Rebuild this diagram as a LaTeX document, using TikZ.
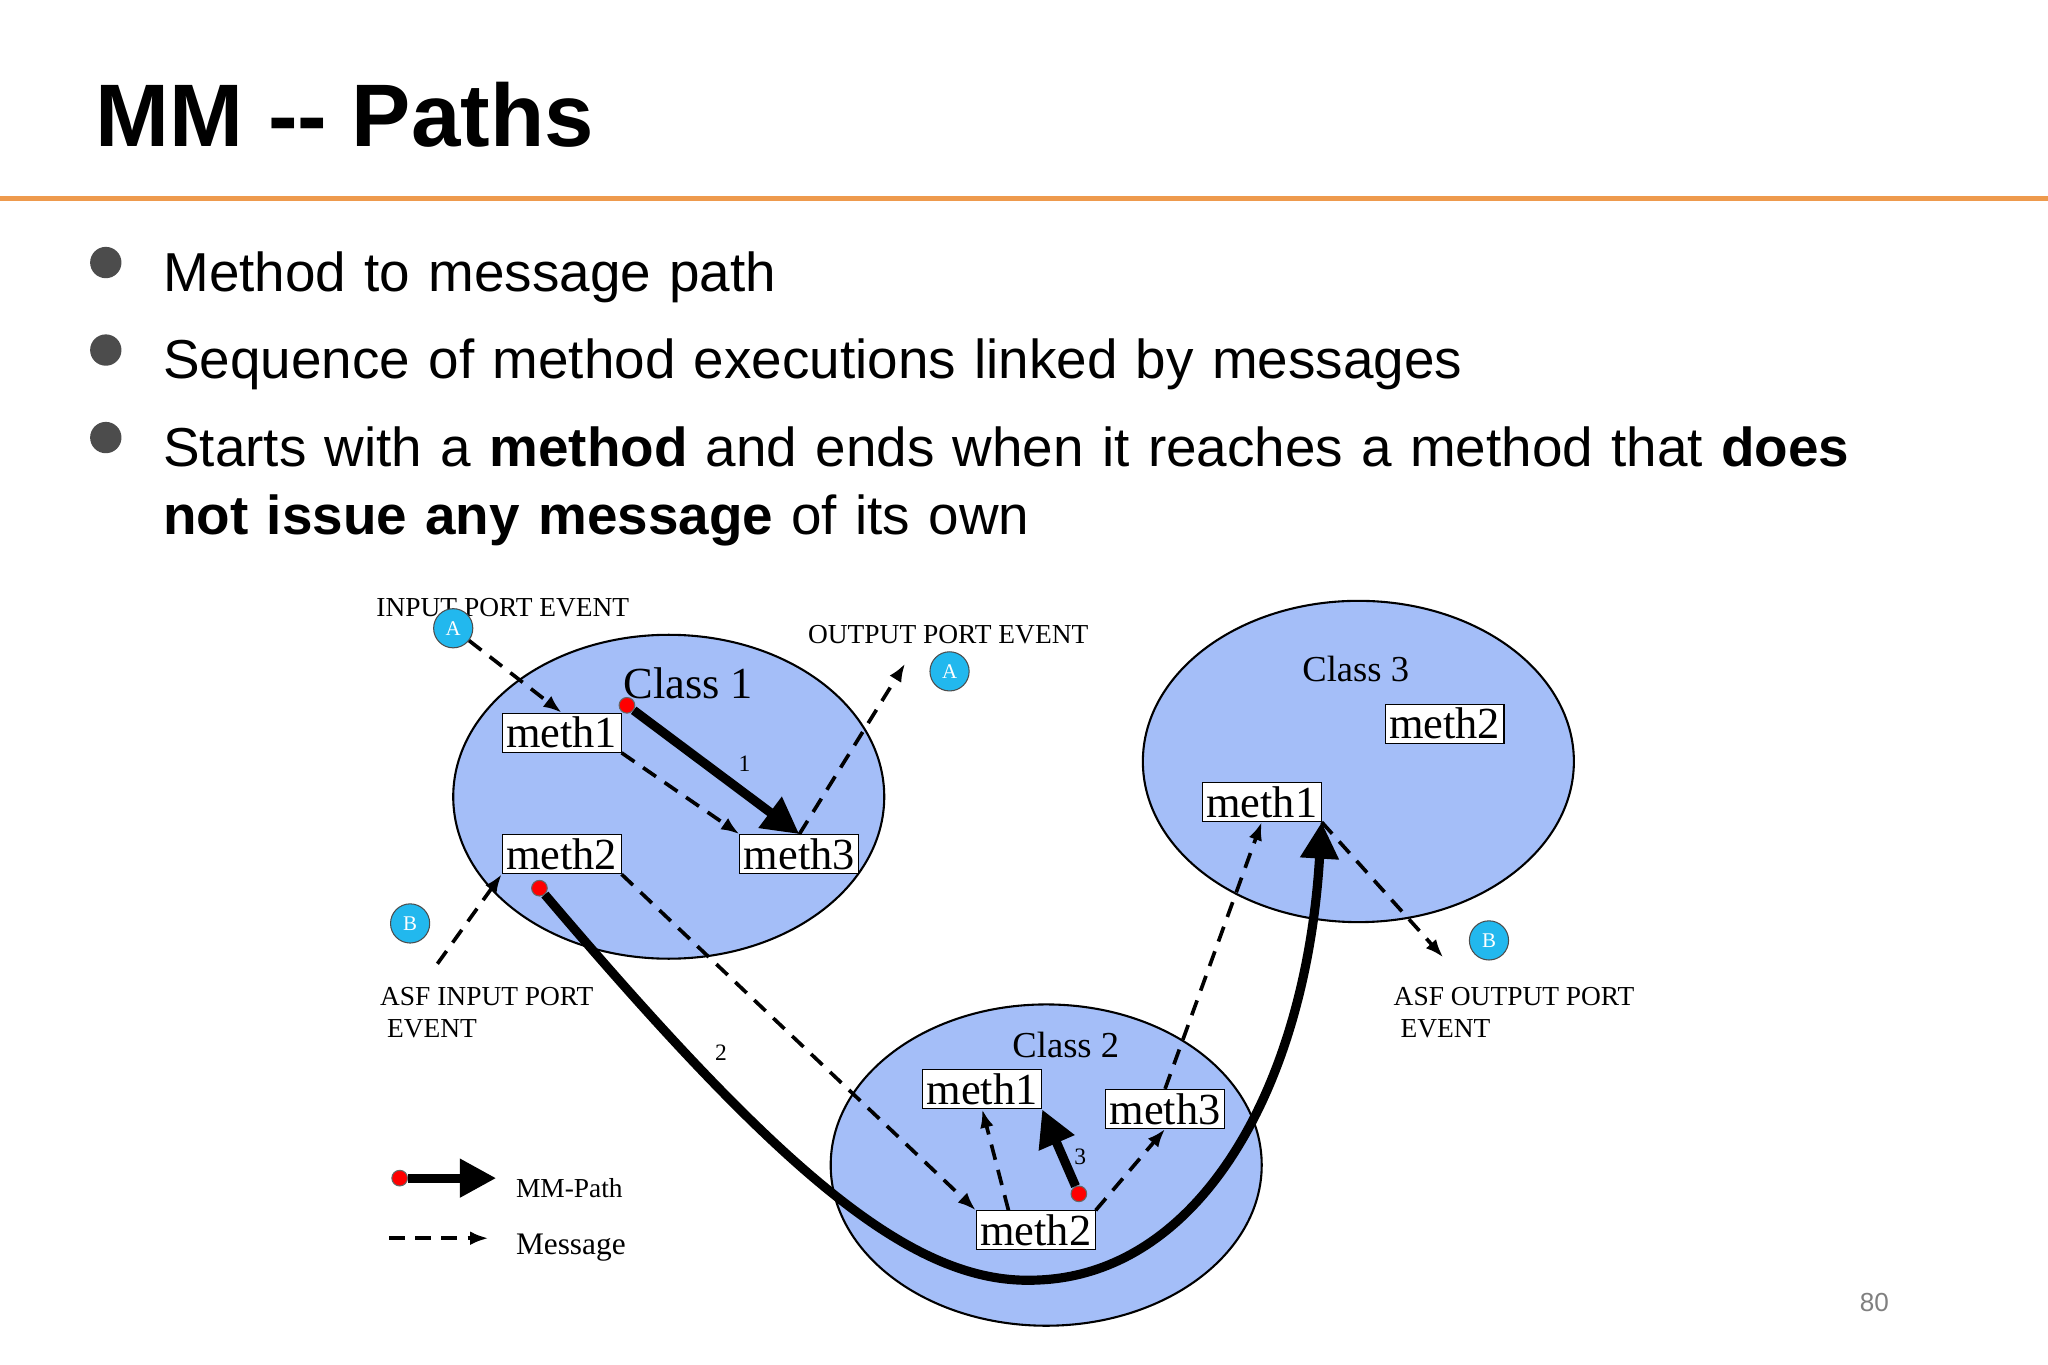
\documentclass[tikz,border=0pt]{standalone}
\usepackage{fontspec}
\setmainfont{Liberation Serif}
\newfontfamily\sans{Liberation Sans}
\usetikzlibrary{arrows.meta}
\definecolor{cls}{HTML}{A4BEF8}
\definecolor{port}{HTML}{22B8EE}
\definecolor{orng}{HTML}{EE9A4D}
\begin{document}
\begin{tikzpicture}[x=0.5pt,y=-0.5pt,
  box/.style={draw,fill=white,inner sep=1.5pt,font=\fontsize{17}{17}\selectfont},
  lbl/.style={font=\fontsize{10.5}{12}\selectfont,align=left},
  cl/.style={font=\fontsize{14}{14}\selectfont},
  ell/.style={draw,fill=cls,thick},
  portc/.style={draw=black!70,fill=port,circle,minimum size=15pt,inner sep=0pt,text=white,font=\fontsize{8}{8}\selectfont},
  msg/.style={dashed,line width=1.4pt,dash pattern=on 6pt off 4pt,-{Latex[length=7pt]}},
  mm/.style={line width=3.5pt,-{Triangle[length=14pt,width=14pt]}},
  dot/.style={circle,fill=red,draw=black!60,inner sep=0pt,minimum size=6pt},
  bul/.style={font=\sans\fontsize{21}{26}\selectfont,anchor=base west,text width=680pt,align=left}]
\useasboundingbox (0,0) rectangle (1568,1045);
\fill[white] (0,0) rectangle (1568,1045);
\node[font=\sans\bfseries\fontsize{34}{34}\selectfont,anchor=base west] (title) at (66,112) {MM -- Paths};
\draw[orng,line width=2pt] (0,152) -- (1568,152);
\foreach \y [count=\i] in {208,275,342}{\fill[black!70] (81,\y-7) circle (6pt);}
\node[bul] (b1) at (118,223) {Method to message path};
\node[bul] (b2) at (118,290) {Sequence of method executions linked by messages};
\node[bul] (b3) at (118,357) {Starts with a \textbf{method} and ends when it reaches a method that \textbf{does not issue any message} of its own};
% ellipses
\draw[ell] (512,610) ellipse [x radius=165,y radius=124];
\draw[ell] (1040,583) ellipse [x radius=165,y radius=123];
\draw[ell] (801,892) ellipse [x radius=165,y radius=123];
\node[cl] (c1) at (527,523) {\fontsize{17}{17}\selectfont Class 1};
\node[cl] (c3) at (1038,512) {Class 3};
\node[cl] (c2) at (816,800) {Class 2};
\node[box] (a11) at (430,561) {meth1};
\node[box] (a12) at (430,654) {meth2};
\node[box] (a13) at (612,654) {meth3};
\node[box] (a32) at (1106,554) {meth2};
\node[box] (a31) at (966,614) {meth1};
\node[box] (a21) at (752,834) {meth1};
\node[box] (a23) at (892,849) {meth3};
\node[box] (a22) at (793,942) {meth2};
% ports
\node[lbl] (ipe) at (385,465) {INPUT PORT EVENT};
\node[portc] (pA1) at (347,481) {A};
\node[lbl] (ope) at (726,486) {OUTPUT PORT EVENT};
\node[portc] (pA2) at (727,514) {A};
\node[portc] (pB1) at (314,707) {B};
\node[lbl,anchor=north west] (aip) at (284,749) {ASF INPUT PORT\\\ EVENT};
\node[portc] (pB2) at (1140,720) {B};
\node[lbl,anchor=north west] (aop) at (1060,749) {ASF OUTPUT PORT\\\ EVENT};
\coordinate (o1) at (693,508);
\coordinate (o2) at (1105,733);
% messages
\draw[msg] (pA1) -- (a11.north);
\draw[msg] (a11.south east) -- (a13.north west);
\draw[msg] (a13.north) -- (o1);
\draw[msg] (pB1.south east) ++(10,20) -- (a12.south west);
\draw[msg] (a12.south east) -- (a22.north west);
\draw[msg] (a22.north west) ++(25,0) -- (a21.south);
\draw[msg] (a22.north east) -- (a23.south);
\draw[msg] (a23.north) -- (a31.south);
\draw[msg] (a31.south east) -- (o2);
% MM paths
\node[dot] (d1) at (480,540) {};
\node[dot] (d2) at (413,680) {};
\node[dot] (d3) at (826,914) {};
\draw[mm] (d1) -- (a13.north);
\draw[mm] (d2) .. controls (600,900) and (700,985) .. (795,980) .. controls (920,975) and (1000,830) .. (a31.south east);
\draw[mm] (d3) -- (a21.south east);
\node[font=\fontsize{9}{9}\selectfont] (n1) at (570,585) {1};
\node[font=\fontsize{9}{9}\selectfont] (n2) at (552,806) {2};
\node[font=\fontsize{9}{9}\selectfont] (n3) at (827,886) {3};
% legend
\node[dot] (ld) at (306,902) {};
\coordinate (le) at (380,902);
\draw[mm] (ld) -- (le);
\node[lbl,anchor=west] (lm) at (388,910) {MM-Path};
\coordinate (ls) at (298,948);
\coordinate (lt) at (374,948);
\draw[msg] (ls) -- (lt);
\node[lbl,anchor=west,font=\fontsize{12}{12}\selectfont] (lg) at (388,955) {Message};
\node[font=\sans\fontsize{10}{10}\selectfont,text=black!50] (pg) at (1435,997) {80};
\end{tikzpicture}
\end{document}
